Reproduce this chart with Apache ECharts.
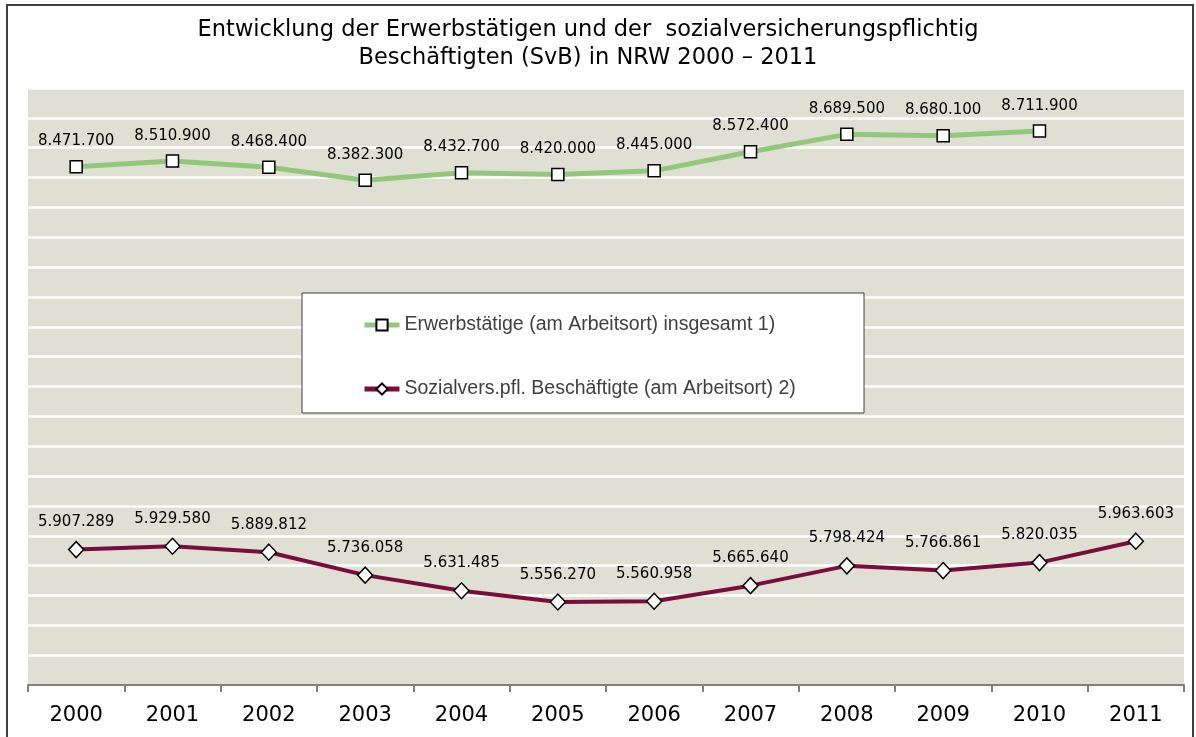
<!DOCTYPE html>
<html>
<head>
<meta charset="utf-8">
<script src="https://cdn.jsdelivr.net/npm/echarts@6/dist/echarts.min.js"></script>
<style>
  html, body { margin: 0; padding: 0; background: #fff; }
  #chart { width: 1196px; height: 737px; }
</style>
</head>
<body>
<div id="chart"></div>
<script>
// chart data
const years = ['2000', '2001', '2002', '2003', '2004', '2005', '2006', '2007', '2008', '2009', '2010', '2011'];
const erwerbstaetige = [8471700, 8510900, 8468400, 8382300, 8432700, 8420000, 8445000, 8572400, 8689500, 8680100, 8711900, null];
const svb = [5907289, 5929580, 5889812, 5736058, 5631485, 5556270, 5560958, 5665640, 5798424, 5766861, 5820035, 5963603];
const seriesNames = ['Erwerbstätige (am Arbeitsort) insgesamt 1)', 'Sozialvers.pfl. Beschäftigte (am Arbeitsort) 2)'];

const FONT = 'DejaVu Sans';

function fmt(v) {
  return String(v).replace(/\B(?=(\d{3})+(?!\d))/g, '.');
}

const chart = echarts.init(document.getElementById('chart'));

const labelStyle = {
  show: true,
  position: 'top',
  distance: 11,
  color: '#000',
  fontSize: 15,
  fontFamily: FONT,
  formatter: p => fmt(p.value)
};

chart.setOption({
  animation: false,
  backgroundColor: '#fff',
  title: {
    text: 'Entwicklung der Erwerbstätigen und der  sozialversicherungspflichtig\nBeschäftigten (SvB) in NRW 2000 – 2011',
    left: 583,
    top: 11,
    textAlign: 'center',
    textStyle: {
      fontFamily: FONT,
      fontWeight: 'normal',
      fontSize: 22.5,
      lineHeight: 28,
      color: '#000'
    }
  },
  graphic: [
    {
      type: 'rect',
      shape: { x: 7, y: 5, width: 1186, height: 745 },
      style: { fill: 'none', stroke: '#404040', lineWidth: 2 },
      z: 100
    },
    {
      type: 'rect',
      shape: { x: 302, y: 293, width: 562, height: 120 },
      style: { fill: '#fff', stroke: '#404040', lineWidth: 1 },
      z: 5
    }
  ],
  legend: {
    orient: 'vertical',
    left: 362,
    top: 315,
    padding: 0,
    itemWidth: 35,
    itemHeight: 14,
    itemGap: 44,
    z: 10,
    textStyle: { fontFamily: 'Liberation Sans', fontSize: 19.5, color: '#404040' },
    data: [
      { name: seriesNames[0], lineStyle: { width: 5 } },
      { name: seriesNames[1], lineStyle: { width: 5 } }
    ]
  },
  grid: {
    left: 28,
    right: 12,
    top: 88,
    bottom: 52,
    show: true,
    backgroundColor: '#dfe0d3',
    borderWidth: 0
  },
  xAxis: {
    type: 'category',
    data: years,
    boundaryGap: true,
    axisLine: { lineStyle: { color: '#808080', width: 2 } },
    axisTick: { show: true, length: 7, lineStyle: { color: '#808080', width: 2 } },
    axisLabel: { margin: 20, fontFamily: FONT, fontSize: 21, color: '#000' }
  },
  yAxis: {
    type: 'value',
    min: 5000000,
    max: 9000000,
    interval: 200000,
    axisLabel: { show: false },
    axisLine: { show: false },
    axisTick: { show: false },
    splitLine: { lineStyle: { color: '#fff', width: 2.5 } }
  },
  series: [
    {
      name: seriesNames[0],
      type: 'line',
      data: erwerbstaetige,
      symbol: 'rect',
      symbolSize: 12,
      lineStyle: { color: '#93c87c', width: 5 },
      itemStyle: { color: '#fff', borderColor: '#000', borderWidth: 1.5 },
      label: labelStyle,
      z: 3
    },
    {
      name: seriesNames[1],
      type: 'line',
      data: svb,
      symbol: 'diamond',
      symbolSize: [15, 16],
      lineStyle: { color: '#7a0c3e', width: 4 },
      itemStyle: { color: '#fff', borderColor: '#000', borderWidth: 1.5 },
      label: labelStyle,
      z: 3
    }
  ]
});
</script>
</body>
</html>
